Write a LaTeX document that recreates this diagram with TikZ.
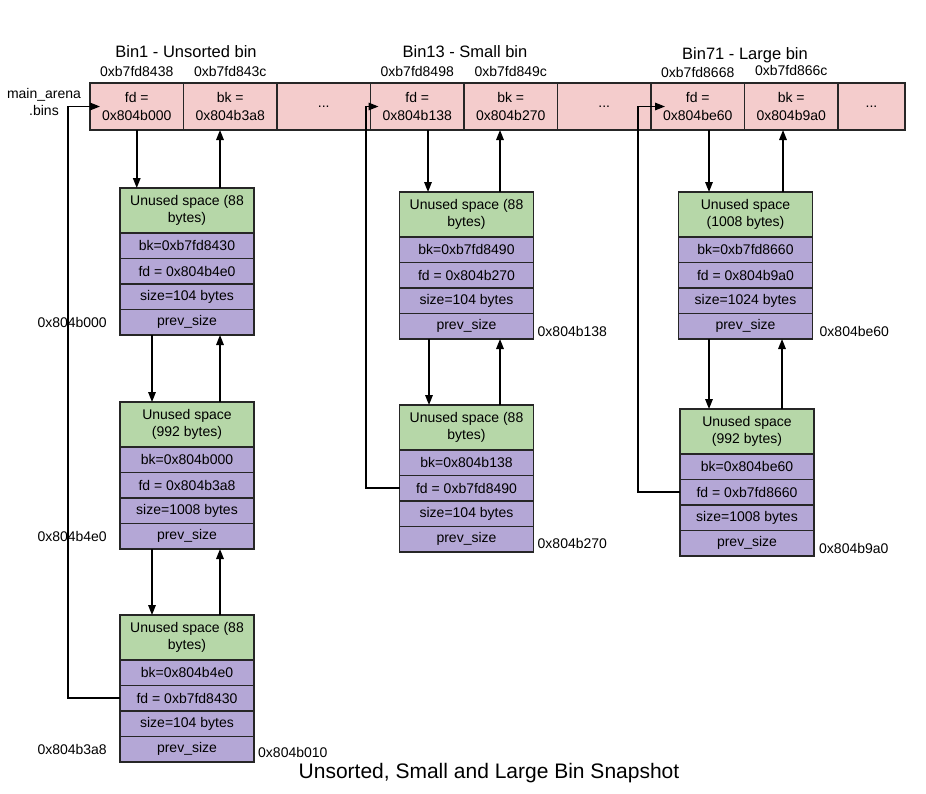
\documentclass[tikz,border=0pt]{standalone}
\usepackage{fontspec}
\setmainfont{Liberation Sans}
\usetikzlibrary{arrows.meta,positioning}
\definecolor{binpink}{HTML}{F4CCCC}
\definecolor{freegreen}{HTML}{B6D7A8}
\definecolor{fieldpurple}{HTML}{B4A7D6}
\tikzset{
  bincell/.style = {draw=black!85, line width=1.5pt, fill=binpink, minimum width=93.5pt,
                    minimum height=47pt, inner sep=0pt, outer sep=0pt, align=center,
                    font=\fontsize{14}{18}\selectfont},
  hdr/.style     = {draw=black!85, line width=1.5pt, fill=freegreen, minimum width=134pt,
                    minimum height=45pt, inner sep=0pt, outer sep=0pt, align=center,
                    font=\fontsize{14}{17}\selectfont},
  fld/.style     = {hdr, fill=fieldpurple, minimum height=25.5pt},
  addr/.style    = {inner sep=1pt, font=\fontsize{14}{17}\selectfont},
  ttl/.style     = {inner sep=1pt, font=\fontsize{16.5}{20}\selectfont},
  link/.style    = {line width=1.6pt, -{Triangle[length=10pt,width=7.5pt]}},
}
% one free chunk: name, x, top, header, bk, fd, size
\newcommand{\mchunk}[7]{%
  \node[hdr] (#1-h) at (#2,#3+22.5) {#4};
  \node[fld, below=0pt of #1-h] (#1-bk) {#5};
  \node[fld, below=0pt of #1-bk] (#1-fd) {#6};
  \node[fld, below=0pt of #1-fd] (#1-sz) {#7};
  \node[fld, below=0pt of #1-sz] (#1-ps) {prev\_size};
}

\begin{document}
\begin{tikzpicture}[x=1pt,y=-1pt]
  \useasboundingbox (0,0) rectangle (926,793);

  % bins array
  \node[addr, align=center] (arena) at (44,102) {main\_arena\\.bins};
  \node[bincell] (b1fd) at (136.75,106.5) {fd =\\0x804b000};
  \node[bincell, right=0pt of b1fd] (b1bk) {bk =\\0x804b3a8};
  \node[bincell, right=0pt of b1bk] (gap1) {...};
  \node[bincell, right=0pt of gap1] (b13fd) {fd =\\0x804b138};
  \node[bincell, right=0pt of b13fd] (b13bk) {bk =\\0x804b270};
  \node[bincell, right=0pt of b13bk] (gap2) {...};
  \node[bincell, right=0pt of gap2] (b71fd) {fd =\\0x804be60};
  \node[bincell, right=0pt of b71fd] (b71bk) {bk =\\0x804b9a0};
  \node[bincell, right=0pt of b71bk, minimum width=67pt] (gap3) {...};

  \node[addr, above=5pt of b1fd] (a1fd) {0xb7fd8438};
  \node[addr, above=5pt of b1bk] (a1bk) {0xb7fd843c};
  \node[addr, above=5pt of b13fd] (a13fd) {0xb7fd8498};
  \node[addr, above=5pt of b13bk] (a13bk) {0xb7fd849c};
  \node[addr, above=4pt of b71fd] (a71fd) {0xb7fd8668};
  \node[addr, above=6pt of b71bk] (a71bk) {0xb7fd866c};
  \node[ttl] (t1) at (186,52) {Bin1 - Unsorted bin};
  \node[ttl] (t13) at (465,52) {Bin13 - Small bin};
  \node[ttl] (t71) at (745,55) {Bin71 - Large bin};

  % chunks
  \mchunk{c1a}{187}{188}{Unused space (88\\bytes)}{bk=0xb7fd8430}{fd = 0x804b4e0}{size=104 bytes}
  \mchunk{c1b}{187}{402}{Unused space\\(992 bytes)}{bk=0x804b000}{fd = 0x804b3a8}{size=1008 bytes}
  \mchunk{c1c}{187}{615}{Unused space (88\\bytes)}{bk=0x804b4e0}{fd = 0xb7fd8430}{size=104 bytes}
  \mchunk{c2a}{466.5}{192}{Unused space (88\\bytes)}{bk=0xb7fd8490}{fd = 0x804b270}{size=104 bytes}
  \mchunk{c2b}{466.5}{405}{Unused space (88\\bytes)}{bk=0x804b138}{fd = 0xb7fd8490}{size=104 bytes}
  \mchunk{c3a}{745.5}{192}{Unused space\\(1008 bytes)}{bk=0xb7fd8660}{fd = 0x804b9a0}{size=1024 bytes}
  \mchunk{c3b}{747}{409}{Unused space\\(992 bytes)}{bk=0x804be60}{fd = 0xb7fd8660}{size=1008 bytes}

  % chunk addresses
  \node[addr, left=12pt of c1a-ps] (l1a) {0x804b000};
  \node[addr, left=12pt of c1b-ps] (l1b) {0x804b4e0};
  \node[addr, left=12pt of c1c-ps] (l1c) {0x804b3a8};
  \node[addr, right=3pt of c1c-ps, yshift=-3pt] (r1c) {0x804b010};
  \node[addr, right=3pt of c2a-ps, yshift=-5pt] (r2a) {0x804b138};
  \node[addr, right=3pt of c2b-ps, yshift=-4pt] (r2b) {0x804b270};
  \node[addr, right=6pt of c3a-ps, yshift=-5pt] (r3a) {0x804be60};
  \node[addr, right=4pt of c3b-ps, yshift=-5pt] (r3b) {0x804b9a0};

  % unsorted bin links
  \draw[link] (b1fd.south) -- (b1fd.south |- c1a-h.north);
  \draw[link] ([xshift=33pt]c1a-h.north) -- ([xshift=33pt]c1a-h.north |- b1bk.south);
  \draw[link] ([xshift=-35pt]c1a-ps.south) -- ([xshift=-35pt]c1b-h.north);
  \draw[link] ([xshift=33pt]c1b-h.north) -- ([xshift=33pt]c1a-ps.south);
  \draw[link] ([xshift=-35pt]c1b-ps.south) -- ([xshift=-35pt]c1c-h.north);
  \draw[link] ([xshift=33pt]c1c-h.north) -- ([xshift=33pt]c1b-ps.south);
  \coordinate (w1) at (68,106.5);
  \draw[link] (c1c-fd.west) -| (w1) -- ([xshift=10pt]b1fd.west);

  % small bin links
  \draw[link] ([xshift=-38.5pt]c2a-h.north |- b13fd.south) -- ([xshift=-38.5pt]c2a-h.north);
  \draw[link] ([xshift=33.5pt]c2a-h.north) -- ([xshift=33.5pt]c2a-h.north |- b13bk.south);
  \draw[link] ([xshift=-37.5pt]c2a-ps.south) -- ([xshift=-37.5pt]c2b-h.north);
  \draw[link] ([xshift=33.5pt]c2b-h.north) -- ([xshift=33.5pt]c2a-ps.south);
  \coordinate (w13) at (366,106.5);
  \draw[link] (c2b-fd.west) -| (w13) -- ([xshift=8pt]b13fd.west);

  % large bin links
  \draw[link] ([xshift=-36.5pt]c3a-h.north |- b71fd.south) -- ([xshift=-36.5pt]c3a-h.north);
  \draw[link] ([xshift=37.5pt]c3a-h.north) -- ([xshift=37.5pt]c3a-h.north |- b71bk.south);
  \draw[link] ([xshift=-36.5pt]c3a-ps.south) -- ([xshift=-36.5pt]c3a-ps.south |- c3b-h.north);
  \draw[link] ([xshift=36.5pt]c3a-ps.south |- c3b-h.north) -- ([xshift=36.5pt]c3a-ps.south);
  \coordinate (w71) at (638,106.5);
  \draw[link] (c3b-fd.west) -| (w71) -- ([xshift=14pt]b71fd.west);

  \node[font=\fontsize{21}{25}\selectfont] (cap) at (489,773) {Unsorted, Small and Large Bin Snapshot};
\end{tikzpicture}
\end{document}
